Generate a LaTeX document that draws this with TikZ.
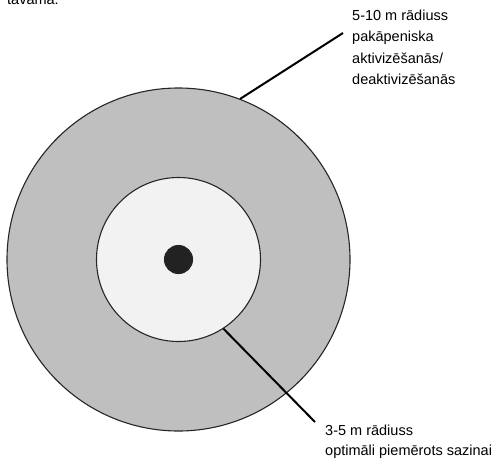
\documentclass[tikz,border=0pt]{standalone}
\usepackage{fontspec}
\setmainfont{Liberation Sans}
\definecolor{outergray}{HTML}{BFBFBF}
\definecolor{innergray}{HTML}{F2F2F2}
\definecolor{dotcol}{HTML}{222222}
\begin{document}
\begin{tikzpicture}[x=1pt,y=-1pt,
  ring/.style={circle, draw=black!85, line width=1.1pt, inner sep=0pt},
  lbl/.style={anchor=base west, inner sep=0pt, font=\fontsize{14.5}{21.5}\selectfont},
  leader/.style={draw=black, line width=2pt}]
\clip (0,0) rectangle (495,458);
\useasboundingbox (0,0) rectangle (495,458);
\node[ring, fill=outergray, minimum size=343pt] (outer) at (178.5,259.5) {};
\node[ring, fill=innergray, minimum size=164pt] (inner) at (178.5,259.5) {};
\node[ring, fill=dotcol, minimum size=28pt] (dot) at (178.5,259.5) {};
\node[lbl] (top) at (7,4) {tavama.};
\node[lbl] (a1) at (352,20) {5-10 m rādiuss};
\node[lbl] (a2) at (352,41.5) {pakāpeniska};
\node[lbl] (a3) at (352,63) {aktivizēšanās/};
\node[lbl] (a4) at (352,84.5) {deaktivizēšanās};
\node[lbl] (b1) at (325,435) {3-5 m rādiuss};
\node[lbl] (b2) at (325,455) {optimāli piemērots sazinai};
\coordinate (ua) at (343,33);
\coordinate (la) at (315,422);
\draw[leader] (outer.69) -- (ua);
\draw[leader] (inner.-57) -- (la);
\end{tikzpicture}
\end{document}
